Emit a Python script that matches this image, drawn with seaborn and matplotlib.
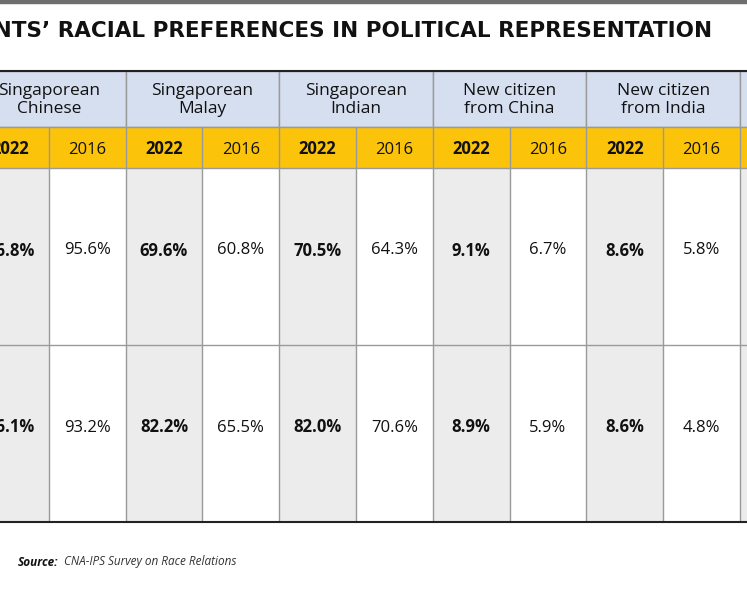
import numpy as np
import matplotlib.pyplot as plt
import seaborn as sns
from matplotlib.patches import Rectangle

sns.set_style("white")
plt.rcParams['font.family'] = ['Open Sans', 'DejaVu Sans']

groups = ["Singaporean\nChinese", "Singaporean\nMalay", "Singaporean\nIndian",
          "New citizen\nfrom China", "New citizen\nfrom India", ""]
years = ["2022", "2016"]
row1 = [96.8, 95.6, 69.6, 60.8, 70.5, 64.3, 9.1, 6.7, 8.6, 5.8]
row2 = [96.1, 93.2, 82.2, 65.5, 82.0, 70.6, 8.9, 5.9, 8.6, 4.8]
rows = [row1, row2]

blue = "#d5dff0"
yellow = "#fcc30b"
grey = "#ececec"
line = "#9a9a9a"

fig = plt.figure(figsize=(7.47, 5.98), dpi=100)
ax = fig.add_axes([0, 0, 1, 1])
# x in column units, y in pixels
x0, cw = -28, 76.8
ax.set_xlim((0 - x0) / cw, (747 - x0) / cw)
ax.set_ylim(598, 0)
ax.axis("off")

ax.add_patch(Rectangle((-1, 0), 20, 3, color="#6e6e6e"))
ax.text((712 - x0) / cw, 31, "RESPONDENTS\u2019 RACIAL PREFERENCES IN POLITICAL REPRESENTATION",
        ha="right", va="center", fontsize=15.5, fontweight="bold", color="#111111",
        family=["DejaVu Sans"])

ytop, ysub, ydat, ymid, ybot = 71, 127, 168, 345, 522
ncols = 12
for g in range(len(groups)):
    c = 2 * g
    ax.add_patch(Rectangle((c, ytop), 2, ysub - ytop, facecolor=blue, edgecolor=line, lw=1))
    ax.text(c + 1, (ytop + ysub) / 2 + 1, groups[g], ha="center", va="center",
            fontsize=12.5, color="#111111", linespacing=1.15)
for c in range(ncols):
    ax.add_patch(Rectangle((c, ysub), 1, ydat - ysub, facecolor=yellow, edgecolor="none"))
    if c < len(row1):
        ax.text(c + 0.5, (ysub + ydat) / 2 + 2, years[c % 2], ha="center", va="center",
                fontsize=12, fontweight="bold" if c % 2 == 0 else "normal", color="#111111")
    ax.add_patch(Rectangle((c, ydat), 1, ybot - ydat,
                           facecolor=grey if c % 2 == 0 else "white", edgecolor="none"))
for c in range(1, ncols):
    ax.plot([c, c], [ysub, ybot], color=line, lw=1)
ax.plot([-1, 20], [ymid, ymid], color=line, lw=1)
ax.plot([-1, 20], [ydat, ydat], color=line, lw=1)
ax.plot([-1, 20], [ysub, ysub], color=line, lw=1)
ax.plot([-1, 20], [ytop, ytop], color="#222222", lw=1.5)
ax.plot([-1, 20], [ybot, ybot], color="#222222", lw=1.5)

for r, vals in enumerate(rows):
    yc = ydat + (r + 0.5) * (ymid - ydat) - 6
    for c, v in enumerate(vals):
        ax.text(c + 0.5, yc, f"{v:.1f}%", ha="center", va="center", fontsize=12,
                fontweight="bold" if c % 2 == 0 else "normal", color="#111111")

ax.text((18 - x0) / cw, 562, "Source:", ha="left", va="center", fontsize=8.5,
        style="italic", fontweight="bold", color="#111111")
ax.text((64 - x0) / cw, 562, "CNA-IPS Survey on Race Relations", ha="left", va="center",
        fontsize=8.5, style="italic", color="#333333")

fig.savefig("out.png", dpi=100)
